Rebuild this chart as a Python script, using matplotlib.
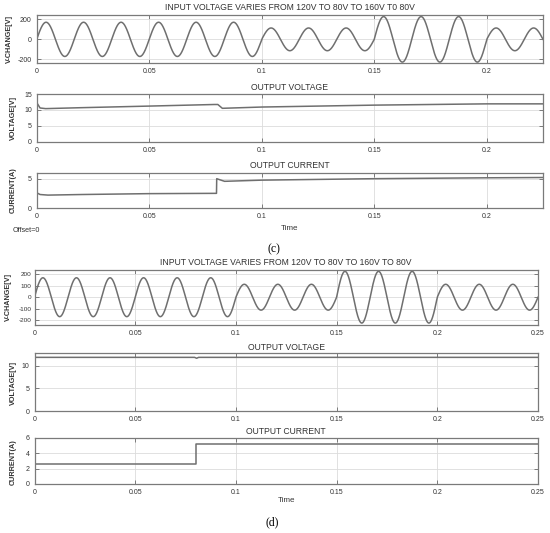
import numpy as np
import matplotlib
matplotlib.use("Agg")
import matplotlib.pyplot as plt

plt.rcParams['font.family'] = ['Liberation Sans', 'DejaVu Sans']
plt.rcParams['axes.unicode_minus'] = False

W, H = 550, 533

# ---------------- data ----------------
# input voltage: 60 Hz sine, peak amplitude per segment (120V, 80V, 160V, 80V rms)
freq_hz = 60.0
seg_start = [0.0, 0.10, 0.15, 0.20]
seg_peak = [170.0, 113.0, 226.0, 113.0]

# panel (c) output voltage breakpoints
vc_t = [0.0, 0.0015, 0.004, 0.02, 0.05, 0.079, 0.0805, 0.0825, 0.10, 0.15, 0.20, 0.225]
vc_v = [12.3, 10.6, 10.4, 10.7, 11.2, 11.7, 11.7, 10.5, 10.9, 11.5, 11.9, 11.9]

# panel (c) output current breakpoints
ic_t = [0.0, 0.0015, 0.005, 0.02, 0.05, 0.0799, 0.0800, 0.0815, 0.0835, 0.10, 0.15, 0.20, 0.225]
ic_v = [2.65, 2.35, 2.25, 2.35, 2.5, 2.55, 5.05, 4.85, 4.6, 4.8, 5.05, 5.2, 5.25]

# panel (d) output voltage breakpoints
vd_t = [0.0, 0.0795, 0.0805, 0.0815, 0.25]
vd_v = [11.9, 11.9, 11.7, 11.9, 11.9]

# panel (d) output current
id_t = [0.0, 0.08, 0.08, 0.25]
id_v = [2.6, 2.6, 5.2, 5.2]

title_in_c = "INPUT VOLTAGE VARIES FROM 120V TO 80V TO 160V T0 80V"
title_in_d = "INPUT VOLTAGE VARIES FROM 120V TO 80V TO 160V TO 80V"

LINE = '#6f6f6f'
EDGE = '#7a7a7a'
GRID = '#dcdcdc'
TXT = '#333333'


def input_wave(t_end):
    t = np.linspace(0, t_end, 4000)
    amp = np.zeros_like(t)
    for s, a in zip(seg_start, seg_peak):
        amp[t >= s] = a
    return t, amp * np.sin(2 * np.pi * freq_hz * t)


fig = plt.figure(figsize=(W / 100, H / 100), dpi=100)


def add_ax(l, t, r, b):
    ax = fig.add_axes([l / W, 1 - b / H, (r - l) / W, (b - t) / H])
    for s in ax.spines.values():
        s.set_color(EDGE)
        s.set_linewidth(0.9)
    ax.tick_params(direction='in', top=True, right=True, length=3, width=0.7,
                   color=EDGE, labelsize=5.0, labelcolor=TXT, pad=3.5)
    ax.grid(True, color=GRID, linewidth=0.6)
    ax.set_axisbelow(True)
    return ax


def ftext(x, y, s, **kw):
    fig.text(x / W, 1 - y / H, s, **kw)


def ylab(x, y, s):
    ftext(x, y, s, rotation=90, ha='center', va='center', fontsize=5.2,
          fontweight='bold', color=TXT)


# ---------------- panel (c) ----------------
cl, cr = 36.7, 543
ax = add_ax(cl, 15, cr, 63)
t, v = input_wave(0.225)
ax.plot(t, v, color=LINE, lw=1.1)
ax.set_xlim(0, 0.225); ax.set_ylim(-235, 242)
ax.set_yticks([-200, 0, 200]); ax.set_xticks([0, 0.05, 0.1, 0.15, 0.2])
ax.set_xticklabels(['0', '0.05', '0.1', '0.15', '0.2'])
ftext((cl + cr) / 2, 8, title_in_c, ha='center', va='center', fontsize=6.2, color=TXT)
ylab(9.5, 39, 'V-CHANGE[V]')

ax = add_ax(cl, 94, cr, 141.7)
ax.plot(vc_t, vc_v, color=LINE, lw=1.1)
ax.set_xlim(0, 0.225); ax.set_ylim(0, 15)
ax.set_yticks([0, 5, 10, 15]); ax.set_xticks([0, 0.05, 0.1, 0.15, 0.2])
ax.set_xticklabels(['0', '0.05', '0.1', '0.15', '0.2'])
ftext((cl + cr) / 2, 87.5, 'OUTPUT VOLTAGE', ha='center', va='center', fontsize=6.2, color=TXT)
ylab(13, 118, 'VOLTAGE[V]')

ax = add_ax(cl, 172.7, cr, 208.3)
ax.plot(ic_t, ic_v, color=LINE, lw=1.1)
ax.set_xlim(0, 0.225); ax.set_ylim(0, 6.07)
ax.set_yticks([0, 5]); ax.set_xticks([0, 0.05, 0.1, 0.15, 0.2])
ax.set_xticklabels(['0', '0.05', '0.1', '0.15', '0.2'])
ftext((cl + cr) / 2, 165.5, 'OUTPUT CURRENT', ha='center', va='center', fontsize=6.2, color=TXT)
ylab(13, 190, 'CURRENT(A)')
ftext((cl + cr) / 2, 228.5, 'Time', ha='center', va='center', fontsize=5.8, color=TXT)
ftext(13, 231, 'Offset=0', ha='left', va='center', fontsize=5.2, color=TXT)
ftext(274, 249, '(c)', ha='center', va='center', fontsize=8.5, family='Liberation Serif', color='black')

# ---------------- panel (d) ----------------
dl, dr = 34.5, 538
xt = [0, 0.05, 0.1, 0.15, 0.2, 0.25]
xtl = ['0', '0.05', '0.1', '0.15', '0.2', '0.25']
ax = add_ax(dl, 270, dr, 325)
t, v = input_wave(0.25)
ax.plot(t, v, color=LINE, lw=1.1)
ax.set_xlim(0, 0.25); ax.set_ylim(-243, 238)
ax.set_yticks([-200, -100, 0, 100, 200]); ax.set_xticks(xt); ax.set_xticklabels(xtl)
ax.tick_params(axis='y', labelsize=4.6, pad=2)
ftext((dl + dr) / 2, 262.5, title_in_d, ha='center', va='center', fontsize=6.2, color=TXT)
ylab(8, 297, 'V-CHANGE[V]')

ax = add_ax(dl, 353.3, dr, 411)
ax.plot(vd_t, vd_v, color=LINE, lw=1.1)
ax.set_xlim(0, 0.25); ax.set_ylim(0, 12.8)
ax.set_yticks([0, 5, 10]); ax.set_xticks(xt); ax.set_xticklabels(xtl)
ftext((dl + dr) / 2, 347, 'OUTPUT VOLTAGE', ha='center', va='center', fontsize=6.2, color=TXT)
ylab(13, 383, 'VOLTAGE[V]')

ax = add_ax(dl, 437.5, dr, 484)
ax.plot(id_t, id_v, color=LINE, lw=1.1)
ax.set_xlim(0, 0.25); ax.set_ylim(0, 6)
ax.set_yticks([0, 2, 4, 6]); ax.set_xticks(xt); ax.set_xticklabels(xtl)
ftext((dl + dr) / 2, 431, 'OUTPUT CURRENT', ha='center', va='center', fontsize=6.2, color=TXT)
ylab(13, 462, 'CURRENT(A)')
ftext((dl + dr) / 2, 501, 'Time', ha='center', va='center', fontsize=5.8, color=TXT)
ftext(272, 522, '(d)', ha='center', va='center', fontsize=8.5, family='Liberation Serif', color='black')

fig.savefig('out.png', dpi=100, facecolor='white')
